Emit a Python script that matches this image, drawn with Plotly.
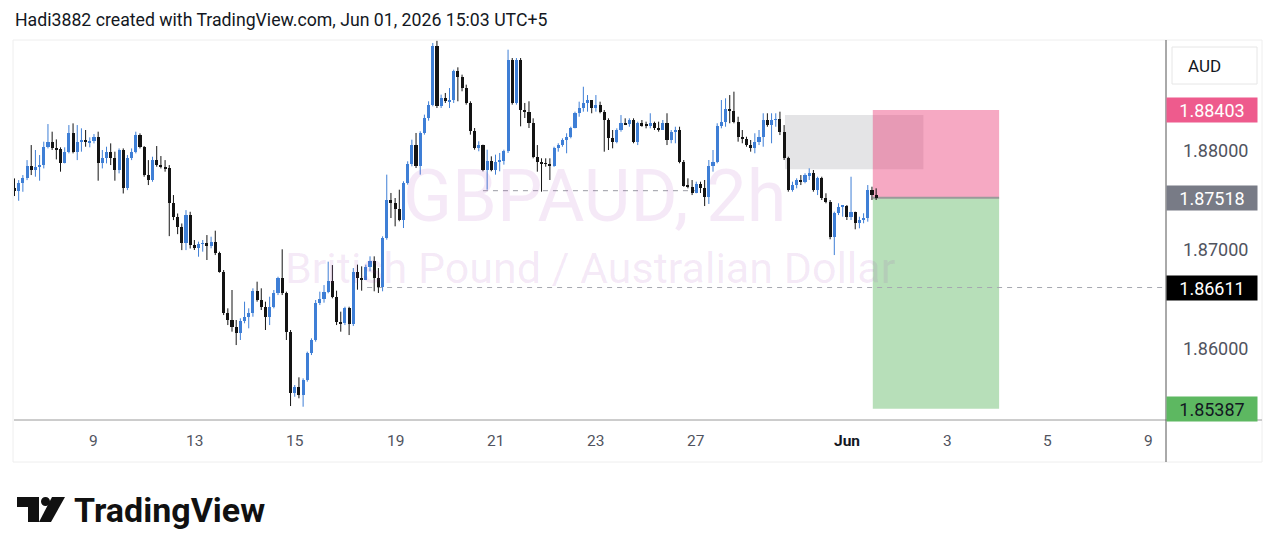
import plotly.graph_objects as go

# ---------------- data (GBPAUD 2h) ----------------
first_open = 1.87612
close = [
    1.87585, 1.87669, 1.87713, 1.87838, 1.87797, 1.87824, 1.87848, 1.88033, 1.88084, 1.88016,
    1.88006, 1.87872, 1.87983, 1.88175, 1.87983, 1.88084, 1.88101, 1.88077, 1.88094, 1.88134,
    1.87872, 1.87915, 1.87983, 1.87915, 1.87797, 1.88000, 1.87619, 1.87915, 1.87983, 1.88151,
    1.88033, 1.87747, 1.87696, 1.87898, 1.87848, 1.87831, 1.87814, 1.87460, 1.87326, 1.87224,
    1.87056, 1.87342, 1.87039, 1.87007, 1.87051, 1.87058, 1.87030, 1.87074, 1.86957, 1.86771,
    1.86357, 1.86283, 1.86209, 1.86155, 1.86273, 1.86316, 1.86351, 1.86579, 1.86485, 1.86417,
    1.86310, 1.86417, 1.86559, 1.86704, 1.86553, 1.86165, 1.85543, 1.85609, 1.85525, 1.85677,
    1.85947, 1.86081, 1.86458, 1.86492, 1.86569, 1.86680, 1.86518, 1.86266, 1.86250, 1.86401,
    1.86243, 1.86768, 1.86707, 1.86690, 1.86815, 1.86876, 1.86707, 1.86613, 1.87111, 1.87498,
    1.87465, 1.87407, 1.87296, 1.87667, 1.87859, 1.88054, 1.87835, 1.88172, 1.88323, 1.88458,
    1.89047, 1.88441, 1.88525, 1.88492, 1.88508, 1.88795, 1.88734, 1.88626, 1.88475, 1.88189,
    1.88020, 1.88054, 1.87801, 1.87886, 1.87801, 1.87879, 1.87892, 1.87987, 1.88912, 1.88475,
    1.88912, 1.88407, 1.88384, 1.88270, 1.87932, 1.87882, 1.87866, 1.87859, 1.87838, 1.88017,
    1.88050, 1.88101, 1.88134, 1.88219, 1.88371, 1.88421, 1.88478, 1.88505, 1.88421, 1.88454,
    1.88387, 1.88303, 1.88118, 1.88084, 1.88202, 1.88270, 1.88258, 1.88303, 1.88084, 1.88270,
    1.88252, 1.88245, 1.88270, 1.88219, 1.88202, 1.88270, 1.88101, 1.88185, 1.88202, 1.87882,
    1.87636, 1.87629, 1.87563, 1.87657, 1.87616, 1.87528, 1.87838, 1.87882, 1.88242, 1.88286,
    1.88411, 1.88397, 1.88286, 1.88134, 1.88108, 1.88050, 1.88017, 1.88084, 1.88134, 1.88303,
    1.88252, 1.88303, 1.88310, 1.88185, 1.87916, 1.87596, 1.87646, 1.87697, 1.87680, 1.87747,
    1.87765, 1.87596, 1.87714, 1.87512, 1.87478, 1.87124, 1.87361, 1.87427, 1.87434, 1.87326,
    1.87377, 1.87260, 1.87293, 1.87310, 1.87596, 1.87545, 1.87518,
]
high = [
    1.87713, 1.87696, 1.87747, 1.87898, 1.88050, 1.88000, 1.87949, 1.88084, 1.88262, 1.88185,
    1.88107, 1.88027, 1.88027, 1.88252, 1.88269, 1.88252, 1.88219, 1.88202, 1.88128, 1.88161,
    1.88185, 1.88000, 1.88033, 1.88067, 1.87983, 1.88016, 1.88016, 1.87949, 1.88016, 1.88185,
    1.88168, 1.88040, 1.87898, 1.87932, 1.88040, 1.87939, 1.87898, 1.87848, 1.87545, 1.87359,
    1.87258, 1.87393, 1.87376, 1.87091, 1.87074, 1.87091, 1.87141, 1.87124, 1.87185, 1.86973,
    1.86788, 1.86401, 1.86586, 1.86283, 1.86300, 1.86468, 1.86401, 1.86603, 1.86670, 1.86603,
    1.86468, 1.86518, 1.86586, 1.86720, 1.86997, 1.86569, 1.86182, 1.85626, 1.85704, 1.85694,
    1.85963, 1.86098, 1.86485, 1.86569, 1.86636, 1.86872, 1.86838, 1.86579, 1.86367, 1.86417,
    1.86417, 1.86808, 1.86842, 1.86825, 1.86842, 1.86926, 1.86926, 1.86808, 1.87128, 1.87751,
    1.87566, 1.87515, 1.87599, 1.87684, 1.87886, 1.88104, 1.88172, 1.88189, 1.88357, 1.88492,
    1.89081, 1.89104, 1.88559, 1.88576, 1.88626, 1.88811, 1.88835, 1.88761, 1.88660, 1.88492,
    1.88222, 1.88088, 1.88054, 1.88003, 1.87936, 1.87953, 1.87970, 1.88003, 1.89013, 1.88929,
    1.88929, 1.88929, 1.88475, 1.88492, 1.88320, 1.88050, 1.87916, 1.87916, 1.87916, 1.88033,
    1.88068, 1.88118, 1.88169, 1.88235, 1.88387, 1.88488, 1.88639, 1.88555, 1.88472, 1.88555,
    1.88488, 1.88404, 1.88320, 1.88202, 1.88219, 1.88353, 1.88320, 1.88320, 1.88320, 1.88286,
    1.88303, 1.88286, 1.88371, 1.88286, 1.88286, 1.88303, 1.88371, 1.88202, 1.88235, 1.88235,
    1.87899, 1.87714, 1.87697, 1.87680, 1.87680, 1.87697, 1.87899, 1.88000, 1.88270, 1.88505,
    1.88522, 1.88555, 1.88589, 1.88336, 1.88202, 1.88134, 1.88101, 1.88169, 1.88202, 1.88371,
    1.88371, 1.88371, 1.88371, 1.88387, 1.88252, 1.87932, 1.87680, 1.87714, 1.87747, 1.87765,
    1.87815, 1.87798, 1.87730, 1.87730, 1.87563, 1.87495, 1.87377, 1.87462, 1.87444, 1.87444,
    1.87730, 1.87377, 1.87326, 1.87361, 1.87646, 1.87629, 1.87613,
]
low = [
    1.87535, 1.87487, 1.87578, 1.87696, 1.87747, 1.87730, 1.87690, 1.87814, 1.88016, 1.88000,
    1.87905, 1.87781, 1.87865, 1.87966, 1.87966, 1.87898, 1.87983, 1.88033, 1.88027, 1.88067,
    1.87690, 1.87814, 1.87865, 1.87848, 1.87690, 1.87764, 1.87561, 1.87595, 1.87898, 1.87966,
    1.88016, 1.87730, 1.87646, 1.87679, 1.87831, 1.87814, 1.87781, 1.87130, 1.87292, 1.87150,
    1.86989, 1.86989, 1.87005, 1.86990, 1.86922, 1.86973, 1.86889, 1.87007, 1.86939, 1.86761,
    1.86333, 1.86232, 1.86165, 1.86030, 1.86081, 1.86250, 1.86199, 1.86316, 1.86468, 1.86384,
    1.86182, 1.86232, 1.86401, 1.86535, 1.86535, 1.86081, 1.85414, 1.85508, 1.85492, 1.85407,
    1.85660, 1.85929, 1.86064, 1.86434, 1.86458, 1.86553, 1.86502, 1.86232, 1.86165, 1.86232,
    1.86131, 1.86222, 1.86589, 1.86579, 1.86690, 1.86775, 1.86573, 1.86556, 1.86573, 1.87094,
    1.87313, 1.87229, 1.87280, 1.87212, 1.87650, 1.87835, 1.87818, 1.87751, 1.88155, 1.88296,
    1.88441, 1.88424, 1.88424, 1.88475, 1.88424, 1.88475, 1.88492, 1.88593, 1.88458, 1.88155,
    1.88003, 1.87987, 1.87785, 1.87599, 1.87785, 1.87751, 1.87785, 1.87852, 1.87970, 1.88458,
    1.88458, 1.88239, 1.88323, 1.88222, 1.87916, 1.87781, 1.87579, 1.87831, 1.87697, 1.87830,
    1.87983, 1.88033, 1.87967, 1.88118, 1.88219, 1.88336, 1.88387, 1.88387, 1.88371, 1.88387,
    1.88371, 1.87983, 1.88000, 1.88017, 1.88068, 1.88185, 1.88252, 1.88235, 1.88068, 1.88050,
    1.88235, 1.88219, 1.88219, 1.88202, 1.88185, 1.88202, 1.88050, 1.88068, 1.88068, 1.87866,
    1.87629, 1.87613, 1.87545, 1.87579, 1.87566, 1.87434, 1.87455, 1.87781, 1.87866, 1.88219,
    1.88235, 1.88270, 1.88270, 1.88084, 1.88068, 1.88033, 1.87983, 1.87967, 1.88050, 1.88033,
    1.88235, 1.88068, 1.88235, 1.88151, 1.87899, 1.87579, 1.87579, 1.87613, 1.87646, 1.87664,
    1.87697, 1.87579, 1.87545, 1.87495, 1.87462, 1.87098, 1.86939, 1.87343, 1.87326, 1.87293,
    1.87293, 1.87199, 1.87209, 1.87260, 1.87276, 1.87495, 1.87495,
]

# time axis (bar index of each day label)
tick_bars = [19, 43, 67, 91, 115, 139, 163, 199, 223, 247, 271]
tick_labels = ["9", "13", "15", "19", "21", "23", "27", "<b>Jun</b>", "3", "5", "9"]
price_ticks = [1.86, 1.87, 1.88]

# drawings
entry_price = 1.87518
stop_price = 1.88403
target_price = 1.85387
position_start, position_end = 205.2, 235.4
zone_top, zone_bottom = 1.88354, 1.87805
zone_start, zone_end = 184.2, 217.3
level_price, level_start = 1.86611, 84.3
level2_price, level2_start, level2_end = 1.87589, 112.0, 165.0

# ---------------- figure ----------------
opens = [first_open] + close[:-1]
hi = [max(h, o, c) for h, o, c in zip(high, opens, close)]
lo = [min(l, o, c) for l, o, c in zip(low, opens, close)]
bars = list(range(len(close)))

W, H = 1275, 551
PL, PR, PT, PB = 14, 1166, 40, 420
x_range = [-0.12, 275.3]
y_range = [1.85273, 1.89111]

BLUE = "#3f7fd6"
BLACK = "#141414"
FONT = "Roboto"
BODY_W = 0.74
MIN_BODY = 0.00008


def px(x):
    return (x - PL) / (PR - PL)


def py(y):
    return (PB - y) / (PB - PT)


up = [c >= o for o, c in zip(opens, close)]
body_base = [min(o, c) for o, c in zip(opens, close)]
body_len = [max(abs(c - o), MIN_BODY) for o, c in zip(opens, close)]
body_col = [BLUE if u else BLACK for u in up]

fig = go.Figure()
# wicks
for want, col in [(True, BLUE), (False, BLACK)]:
    wx, wy = [], []
    for i, u in enumerate(up):
        if u == want:
            wx += [i, i, None]
            wy += [lo[i], hi[i], None]
    fig.add_trace(go.Scatter(x=wx, y=wy, mode="lines", line=dict(color=col, width=1),
                             hoverinfo="skip", showlegend=False))
# bodies
fig.add_trace(go.Bar(x=bars, y=body_len, base=body_base, width=BODY_W,
                     marker=dict(color=body_col, line=dict(width=0)),
                     hoverinfo="skip", showlegend=False))

shapes = []
shapes.append(dict(type="rect", xref="x", yref="y", x0=zone_start, x1=zone_end,
                   y0=zone_bottom, y1=zone_top, fillcolor="#e4e4e6",
                   line=dict(width=0), layer="below"))
shapes.append(dict(type="rect", xref="x", yref="y", x0=position_start, x1=position_end,
                   y0=entry_price, y1=stop_price, fillcolor="rgba(236,64,122,0.45)",
                   line=dict(width=0), layer="below"))
shapes.append(dict(type="rect", xref="x", yref="y", x0=position_start, x1=position_end,
                   y0=target_price, y1=entry_price, fillcolor="rgba(76,175,80,0.40)",
                   line=dict(width=0), layer="below"))
shapes.append(dict(type="line", xref="x", yref="y", x0=position_start, x1=position_end,
                   y0=entry_price, y1=entry_price, line=dict(color="#9a9a9a", width=2),
                   layer="below"))
shapes.append(dict(type="line", xref="x", yref="y", x0=level_start, x1=x_range[1],
                   y0=level_price, y1=level_price,
                   line=dict(color="#a6a8b0", width=1, dash="5px,5px"), layer="below"))
shapes.append(dict(type="line", xref="x", yref="y", x0=level2_start, x1=level2_end,
                   y0=level2_price, y1=level2_price,
                   line=dict(color="#9a9ca4", width=1, dash="5px,5px"), layer="below"))

# frame
shapes.append(dict(type="rect", xref="paper", yref="paper", x0=px(13), x1=px(1262),
                   y0=py(462), y1=py(40), line=dict(color="#eeeeee", width=1)))
shapes.append(dict(type="line", xref="paper", yref="paper", x0=px(14), x1=px(1262),
                   y0=0, y1=0, line=dict(color="#9a9a9a", width=1)))
shapes.append(dict(type="line", xref="paper", yref="paper", x0=1, x1=1,
                   y0=py(462), y1=py(40), line=dict(color="#555555", width=1)))
shapes.append(dict(type="rect", xref="paper", yref="paper", x0=px(1172), x1=px(1257),
                   y0=py(84), y1=py(47), line=dict(color="#e6e6e6", width=1),
                   fillcolor="white"))

# TradingView logo glyph
shapes.append(dict(type="rect", xref="paper", yref="paper", x0=px(17), x1=px(39),
                   y0=py(507), y1=py(497), fillcolor="#111111", line=dict(width=0)))
shapes.append(dict(type="rect", xref="paper", yref="paper", x0=px(28), x1=px(39),
                   y0=py(522), y1=py(497), fillcolor="#111111", line=dict(width=0)))
shapes.append(dict(type="circle", xref="paper", yref="paper", x0=px(41), x1=px(50),
                   y0=py(506), y1=py(497), fillcolor="#111111", line=dict(width=0)))
shapes.append(dict(type="path", xref="paper", yref="paper",
                   path=f"M {px(52)} {py(497)} L {px(65)} {py(497)} L {px(51)} {py(522)} L {px(39)} {py(522)} Z",
                   fillcolor="#111111", line=dict(width=0)))

ann = []
ann.append(dict(text="Hadi3882 created with TradingView.com, Jun 01, 2026 15:03 UTC+5",
                xref="paper", yref="paper", x=px(13), y=py(20), xanchor="left",
                yanchor="middle", showarrow=False,
                font=dict(family=FONT, size=17.7, color="#131722")))
ann.append(dict(text="GBPAUD, 2h", xref="paper", yref="paper", x=px(594), y=py(197),
                xanchor="center", yanchor="middle", showarrow=False,
                font=dict(family=FONT, size=72, color="rgba(156,39,176,0.10)")))
ann.append(dict(text="British Pound / Australian Dollar", xref="paper", yref="paper",
                x=px(590), y=py(268), xanchor="center", yanchor="middle", showarrow=False,
                font=dict(family=FONT, size=43, color="rgba(156,39,176,0.10)")))
for b, t in zip(tick_bars, tick_labels):
    ann.append(dict(text=t, xref="x", yref="paper", x=b, y=py(441), xanchor="center",
                    yanchor="middle", showarrow=False,
                    font=dict(family=FONT, size=15.5, color="#131722" if "Jun" in t else "#50535e")))
for p in price_ticks:
    ann.append(dict(text=f"{p:.5f}", xref="paper", yref="y", x=px(1215), y=p,
                    xanchor="center", yanchor="middle", showarrow=False,
                    font=dict(family=FONT, size=18, color="#50535e")))
ann.append(dict(text="AUD", xref="paper", yref="paper", x=px(1204), y=py(66),
                xanchor="center", yanchor="middle", showarrow=False,
                font=dict(family=FONT, size=17, color="#131722")))
for price, bg, fg in [(stop_price, "#ee5b8d", "white"), (entry_price, "#787b86", "white"),
                      (level_price, "#000000", "white"), (target_price, "#5db861", "#131722")]:
    ann.append(dict(text=f"{price:.5f}", xref="paper", yref="y", x=px(1166), y=price,
                    xanchor="left", yanchor="middle", showarrow=False, bgcolor=bg,
                    width=88, height=22, borderpad=1, align="center",
                    font=dict(family=FONT, size=18, color=fg)))
ann.append(dict(text="<b>TradingView</b>", xref="paper", yref="paper", x=px(72), y=py(510),
                xanchor="left", yanchor="middle", showarrow=False,
                font=dict(family=FONT, size=34, color="#111111")))

fig.update_layout(
    width=W, height=H,
    margin=dict(l=PL, r=W - PR, t=PT, b=H - PB),
    paper_bgcolor="white", plot_bgcolor="white",
    showlegend=False, bargap=0,
    shapes=shapes, annotations=ann,
    xaxis=dict(range=x_range, showgrid=False, zeroline=False, showticklabels=False,
               showline=False, fixedrange=True),
    yaxis=dict(range=y_range, showgrid=False, zeroline=False, showticklabels=False,
               showline=False, fixedrange=True),
)

fig.write_html("out.html")
